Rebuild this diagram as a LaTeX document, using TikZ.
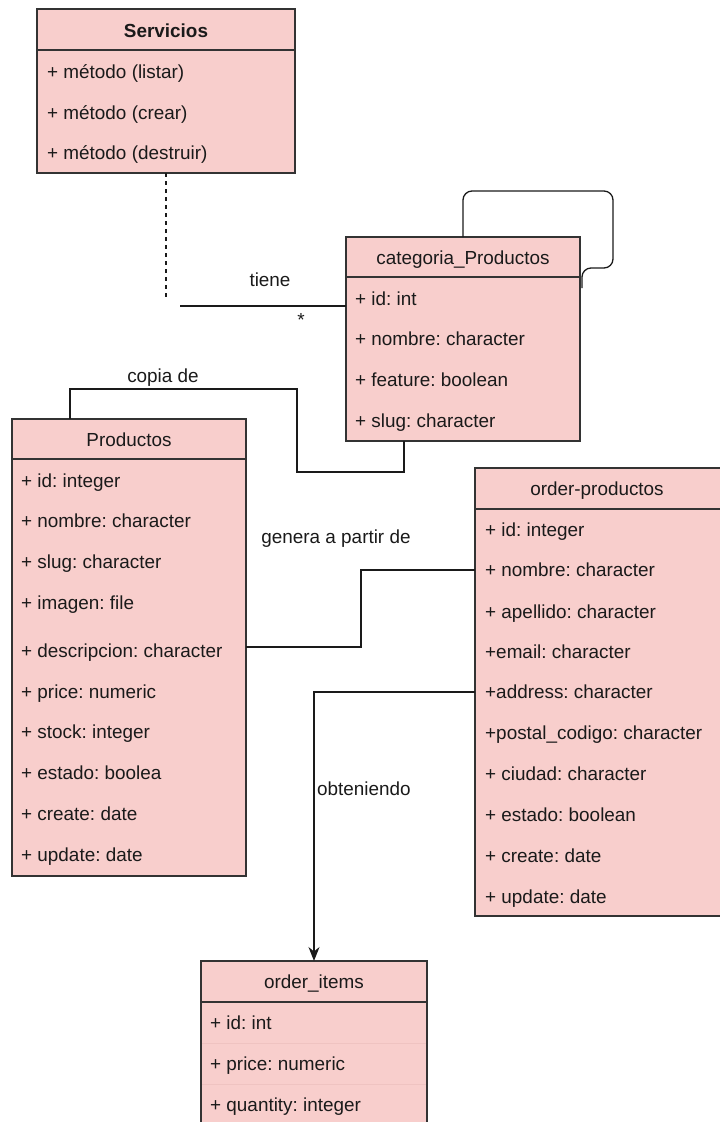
\documentclass[tikz,border=0pt]{standalone}
\usepackage{fontspec}
\setmainfont{Liberation Sans}
\usetikzlibrary{arrows.meta,calc}
\definecolor{boxfill}{HTML}{F8CECC}
\definecolor{boxline}{HTML}{333333}
\definecolor{txt}{HTML}{1A1A1A}
\definecolor{faint}{HTML}{EFC3C1}
\frenchspacing
\begin{document}
\begin{tikzpicture}[x=1pt,y=-1pt,
  cls/.style={draw=boxline, fill=boxfill, line width=1.2pt, inner sep=0pt, outer sep=0pt, anchor=north west, rectangle},
  txtbase/.style={inner sep=0pt, text height=0.72em, text depth=0.2em, font=\fontsize{18.9}{21}\selectfont, text=txt, yshift=-3.5pt},
  row/.style={txtbase, anchor=west},
  hdr/.style={txtbase, anchor=center},
  conn/.style={line width=1.3pt, draw=txt},
  lbl/.style={txtbase},
]
\useasboundingbox (0,0) rectangle (720,1122);
\clip (0,0) rectangle (720,1122);

% ---------- Servicios ----------
\node[cls, minimum width=258pt, minimum height=164pt] (serv) at (37,9) {};
\draw[boxline, line width=1.2pt] ($(serv.north west)+(0,41)$) -- ($(serv.north east)+(0,41)$);
\node[hdr, font=\fontsize{18.9}{21}\selectfont\bfseries] (servT) at (166,31) {Servicios};
\foreach \yy/\txt [count=\i] in {72/{+ método (listar)}, 113/{+ método (crear)}, 153/{+ método (destruir)}}
  \node[row] (serv\i) at (47,\yy) {\txt};

% ---------- categoria_Productos ----------
\node[cls, minimum width=234pt, minimum height=204pt] (cat) at (346,237) {};
\draw[boxline, line width=1.2pt] ($(cat.north west)+(0,40)$) -- ($(cat.north east)+(0,40)$);
\node[hdr] (catT) at (463,258) {categoria\_Productos};
\foreach \yy/\txt [count=\i] in {299/{+ id: int}, 339/{+ nombre: character}, 380/{+ feature: boolean}, 421/{+ slug: character}}
  \node[row] (cat\i) at (355,\yy) {\txt};

% ---------- Productos ----------
\node[cls, minimum width=234pt, minimum height=457pt] (prod) at (12,419) {};
\draw[boxline, line width=1.2pt] ($(prod.north west)+(0,40)$) -- ($(prod.north east)+(0,40)$);
\node[hdr] (prodT) at (129,440) {Productos};
\foreach \yy/\txt [count=\i] in {481/{+ id: integer}, 521/{+ nombre: character}, 562/{+ slug: character}, 603/{+ imagen: file}, 651/{+ descripcion: character}, 692/{+ price: numeric}, 732/{+ stock: integer}, 773/{+ estado: boolea}, 814/{+ create: date}, 855/{+ update: date}}
  \node[row] (prod\i) at (21,\yy) {\txt};

% ---------- order-productos ----------
\node[cls, minimum width=265pt, minimum height=448pt] (ord) at (475,468) {};
\draw[boxline, line width=1.2pt] ($(ord.north west)+(0,41)$) -- ($(ord.north east)+(0,41)$);
\node[hdr] (ordT) at (597,489) {order-productos};
\foreach \yy/\txt [count=\i] in {530/{+ id: integer}, 570/{+ nombre: character}, 612/{+ apellido: character}, 652/{+email: character}, 692/{+address: character}, 733/{+postal\_codigo: character}, 774/{+ ciudad: character}, 815/{+ estado: boolean}, 856/{+ create: date}, 897/{+ update: date}}
  \node[row] (ord\i) at (485,\yy) {\txt};

% ---------- order_items ----------
\node[cls, minimum width=226pt, minimum height=175pt] (items) at (201,961) {};
\draw[faint, line width=0.8pt] (202,1043) -- (426,1043);
\draw[faint, line width=0.8pt] (202,1084) -- (426,1084);
\draw[boxline, line width=1.2pt] ($(items.north west)+(0,41)$) -- ($(items.north east)+(0,41)$);
\node[hdr] (itemsT) at (314,982) {order\_items};
\foreach \yy/\txt [count=\i] in {1023/{+ id: int}, 1064/{+ price: numeric}, 1105/{+ quantity: integer}}
  \node[row] (items\i) at (210,\yy) {\txt};

% ---------- connectors ----------
% dashed from Servicios
\coordinate (dashEnd) at (166,297);
\draw[conn, line width=1.2pt, dash pattern=on 4pt off 4pt] (serv.south) -- (dashEnd);

% tiene
\coordinate (tieneStart) at (180,306);
\draw[conn] (tieneStart) -- (tieneStart -| cat.west);
\node[lbl] (tieneL) at (270,280) {tiene};
\node[lbl] (starL) at (301,320) {*};

% self loop on categoria_Productos
\coordinate (lp1) at (463,191);
\coordinate (lp2) at (613,191);
\coordinate (lp3) at (613,268);
\coordinate (lp4) at (582,268);
\coordinate (lp5) at (582,288);
\draw[conn, rounded corners=9pt] (cat.north) -- (lp1) -- (lp2) -- (lp3) -- (lp4) -- (lp5);

% copia de
\coordinate (cp0) at ($(prod.north west)+(58,0)$);
\coordinate (cp1) at (70,389);
\coordinate (cp2) at (297,389);
\coordinate (cp3) at (297,472);
\coordinate (cp4) at (404,472);
\coordinate (cp5) at ($(cat.south west)+(58,0)$);
\draw[conn] (cp0) -- (cp1) -- (cp2) -- (cp3) -- (cp4) -- (cp5);
\node[lbl] (copiaL) at (163,376) {copia de};

% genera a partir de
\coordinate (g0) at (246,647);
\coordinate (g1) at (361,647);
\coordinate (g2) at (361,570);
\draw[conn] (g0 -| prod.east) -- (g1) -- (g2) -- (g2 -| ord.west);
\node[lbl] (generaL) at (336,537) {genera a partir de};

% obteniendo
\coordinate (o0) at (475,692);
\coordinate (o1) at (314,692);
\draw[conn, -{Stealth[length=14pt, width=11pt, inset=4.5pt]}] (o0 -| ord.west) -- (o1) -- (items.north);
\node[lbl, anchor=west] (obtL) at (317,789) {obteniendo};
\end{tikzpicture}
\end{document}
